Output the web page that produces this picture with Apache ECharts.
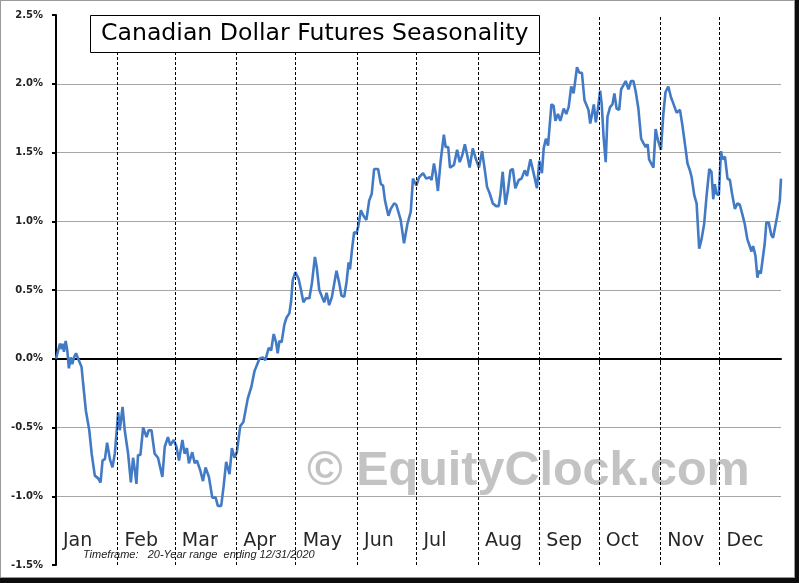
<!doctype html>
<html>
  <head>
    <meta charset="utf-8">
    <title>Canadian Dollar Futures Seasonality</title>
    <script src="https://cdn.jsdelivr.net/npm/echarts@6/dist/echarts.min.js"></script>
    <style>
      body { margin: 0; background: #0d0d0d; }
      #frame { width: 795px; height: 578px; box-sizing: border-box; border: 1px solid #9a9a9a; background: #fff; }
      #main { width: 793px; height: 576px; }
    </style>
  </head>
  <body>
    <div id="frame"><div id="main"></div></div>
  </body>
  <script>
   // day of a leap year (0 = Jan 1) and seasonal % change
   var days = [0,2,2.9,3.4,4,4.9,5.7,6.5,7.4,8.2,9.1,10.1,11.2,12.9,13.7,15.1,16.8,18,19.6,21.3,22.5,23.5,24.7,25.8,27.2,28.5,29.7,
     31.4,32.2,33.6,34.7,36.4,37.8,38.9,39.8,40.6,41.4,42.6,44,45.7,46.8,48.2,49.8,51.5,53.7,54.9,56.5,57.7,59.4,
     60.8,62.1,63.8,64.9,66.1,67.1,68.8,70,71.1,72.8,74.2,75.5,77.2,78.9,80.6,81.7,83.4,84.6,85.9,87.6,88.8,90.1,
     91.3,93,94.6,96.8,98.7,100.2,102.7,104.4,105.7,107.4,108.6,109.9,111.1,111.9,112.8,113.9,115.3,116.4,117.8,118.7,119.5,
     120.8,122.5,123.7,124.9,126.2,127.9,129.2,130.7,131.6,132.9,134.3,135.4,136.6,137.9,139.3,140.5,141.6,143,144.1,145.5,146.7,147.7,148.4,149.4,150.5,
     151.7,152.7,153.9,155.2,156.7,158.1,159.4,160.6,162.6,164,165.1,166.1,167.8,169,170.7,171.8,172.8,174,175.7,177.4,179.1,
     180.2,181.9,183.3,185.3,186.9,188.6,189.6,190.8,191.7,192.8,194.2,195.8,196.7,198,198.9,200.9,202.5,203.8,205.1,206.4,207.6,208.8,210.4,211.8,
     213.5,215.1,216.5,217.6,219,220.5,222.2,223.5,224.4,225.5,226.9,228.1,229.4,230.6,231.9,233.6,235,236.6,237.8,239.5,240.8,241.7,242.8,
     244,245.3,246.2,247.3,248.4,250.1,251.2,252.1,253.4,254.6,256.3,257.6,258.8,260.1,261.3,263,264.2,265.5,266.8,268.8,269.7,270.5,271.5,272.5,273.5,
     274.7,275.5,276.4,277.5,278.4,279.7,280.9,281.9,283,284.3,285.3,286.5,287.6,289,290.3,291.5,292.7,294,295.4,296.5,297.7,298.7,299.4,300.4,301.6,302.7,303.7,304.4,
     305.4,306.6,307.7,309.1,310.5,311.3,312.1,313.3,315,316.2,317.8,318.8,320,320.9,322.2,323.4,324.7,325.9,327.2,328.4,329.8,330.9,331.8,332.6,333.4,334.6,
     335.7,336.5,337.7,339,340.2,341.3,342.7,344,345.2,346.5,347.7,349,350.2,351.1,351.9,353.1,354.1,354.8,355.8,356.6,357.8,358.6,359.8,361.1,362,364,365.4,366];
   var values = [0.00,0.11,0.07,0.11,0.05,0.13,0.06,-0.07,0.01,-0.04,0.01,0.04,0.00,-0.06,-0.18,-0.38,-0.52,-0.69,-0.85,-0.87,-0.90,-0.74,-0.73,-0.61,-0.73,-0.79,-0.69,
     -0.39,-0.52,-0.35,-0.52,-0.69,-0.90,-0.72,-0.81,-0.91,-0.70,-0.70,-0.50,-0.57,-0.52,-0.52,-0.69,-0.72,-0.86,-0.64,-0.57,-0.63,-0.59,
     -0.64,-0.74,-0.59,-0.69,-0.65,-0.76,-0.68,-0.76,-0.74,-0.81,-0.89,-0.79,-0.86,-1.01,-1.01,-1.07,-1.07,-0.93,-0.75,-0.84,-0.65,-0.72,
     -0.68,-0.49,-0.46,-0.29,-0.20,-0.09,0.00,0.01,-0.01,0.08,0.06,0.18,0.12,0.04,0.13,0.12,0.25,0.30,0.33,0.42,0.57,
     0.63,0.58,0.50,0.41,0.44,0.44,0.55,0.74,0.67,0.50,0.45,0.41,0.48,0.39,0.45,0.55,0.64,0.55,0.46,0.45,0.56,0.70,0.65,0.79,0.92,
     0.91,0.97,1.08,1.04,1.01,1.15,1.20,1.38,1.38,1.27,1.26,1.15,1.04,1.09,1.13,1.12,1.13,1.01,0.84,0.98,1.07,
     1.31,1.26,1.32,1.35,1.31,1.32,1.30,1.42,1.35,1.22,1.44,1.63,1.54,1.54,1.39,1.41,1.52,1.43,1.48,1.56,1.48,1.39,1.53,1.46,
     1.39,1.51,1.37,1.25,1.20,1.13,1.11,1.11,1.20,1.36,1.12,1.22,1.37,1.38,1.24,1.30,1.31,1.37,1.33,1.45,1.37,1.38,1.24,
     1.44,1.35,1.53,1.60,1.55,1.85,1.84,1.73,1.78,1.73,1.82,1.78,1.83,1.98,1.93,2.12,2.08,2.08,1.88,1.81,1.71,1.77,1.85,1.72,1.81,
     1.95,1.85,1.62,1.43,1.76,1.83,1.85,1.93,1.82,1.81,1.96,1.99,2.02,1.96,2.02,2.02,1.94,1.82,1.60,1.57,1.54,1.56,1.45,1.44,1.39,1.67,1.60,1.61,
     1.52,1.78,1.94,1.98,1.90,1.87,1.88,1.79,1.81,1.70,1.53,1.42,1.37,1.32,1.19,1.13,0.80,0.87,0.98,1.18,1.38,1.36,1.16,1.27,1.20,1.19,
     1.51,1.45,1.47,1.31,1.30,1.20,1.09,1.13,1.12,1.05,0.98,0.87,0.82,0.78,0.82,0.75,0.59,0.64,0.62,0.63,0.84,0.99,0.99,0.90,0.88,1.03,1.15,1.31];
   var monthNames = ['Jan','Feb','Mar','Apr','May','Jun','Jul','Aug','Sep','Oct','Nov','Dec'];
   var monthStarts = [0,31,60,91,121,152,182,213,244,274,305,335];
   var yTicks = [-1.5,-1.0,-0.5,0,0.5,1.0,1.5,2.0,2.5];

   var chart = echarts.init(document.getElementById('main'));
   var lineData = days.map(function (d, i) { return [d, values[i]]; });

   var option = {
     animation: false,
     title: {
       text: 'Canadian Dollar Futures Seasonality',
       left: 89,
       top: 14,
       padding: [6, 11, 6, 11],
       borderWidth: 1,
       borderColor: '#000',
       backgroundColor: '#fff',
       textStyle: {
         fontFamily: 'DejaVu Sans',
         fontWeight: 'normal',
         fontSize: 23.6,
         lineHeight: 26,
         color: '#000'
       }
     },
     graphic: [
       {
         type: 'text',
         left: 306,
         top: 446,
         z: -1,
         silent: true,
         style: {
           text: '\u00a9 EquityClock.com',
           font: 'bold 48.5px "Liberation Sans", Arial, sans-serif',
           fill: '#c3c3c3'
         }
       },
       {
         type: 'text',
         left: 82,
         top: 548,
         silent: true,
         style: {
           text: 'Timeframe:   20-Year range  ending 12/31/2020',
           font: 'italic 11px "Liberation Sans", Arial, sans-serif',
           fill: '#222'
         }
       }
     ],
     grid: {
       left: 55,
       top: 14,
       width: 725,
       height: 550,
       containLabel: false
     },
     xAxis: [
       {
         type: 'value',
         min: 0,
         max: 366,
         axisLine: { onZero: true, lineStyle: { color: '#000', width: 2 } },
         axisTick: { show: true, length: 4, customValues: monthStarts, lineStyle: { color: '#000', width: 1 } },
         axisLabel: { show: false },
         splitLine: { show: false }
       },
       {
         type: 'value',
         min: 0,
         max: 366,
         position: 'bottom',
         axisLine: { show: false, onZero: false },
         axisTick: { show: false },
         splitLine: { show: false },
         axisLabel: {
           inside: true,
           margin: 14,
           customValues: monthStarts,
           align: 'left',
           padding: [0, 0, 0, 7],
           fontFamily: 'DejaVu Sans',
           fontSize: 19,
           color: '#262626',
           formatter: function (v) { return monthNames[monthStarts.indexOf(v)]; }
         }
       }
     ],
     yAxis: {
       type: 'value',
       min: yTicks[0],
       max: yTicks[yTicks.length - 1],
       interval: 0.5,
       axisLine: { show: true, lineStyle: { color: '#000', width: 2 } },
       axisTick: { show: true, length: 4, lineStyle: { color: '#000', width: 2 } },
       axisLabel: {
         margin: 13,
         fontFamily: 'DejaVu Sans',
         fontWeight: 'bold',
         fontSize: 10,
         color: '#222',
         formatter: function (v) { return v.toFixed(1) + '%'; }
       },
       splitLine: {
         show: true,
         showMinLine: false,
         showMaxLine: false,
         lineStyle: { color: '#a6a6a6', width: 1 }
       }
     },
     series: [
       {
         type: 'line',
         xAxisIndex: 0,
         data: lineData,
         showSymbol: false,
         symbol: 'none',
         lineStyle: { color: '#427ac6', width: 2.6 },
         markLine: {
           silent: true,
           symbol: ['none', 'none'],
           label: { show: false },
           lineStyle: { color: '#000', width: 1, type: [3, 2] },
           data: monthStarts.slice(1).map(function (d) { return { xAxis: d }; })
         }
       }
     ]
   };
   chart.setOption(option);
  </script>
</html>
